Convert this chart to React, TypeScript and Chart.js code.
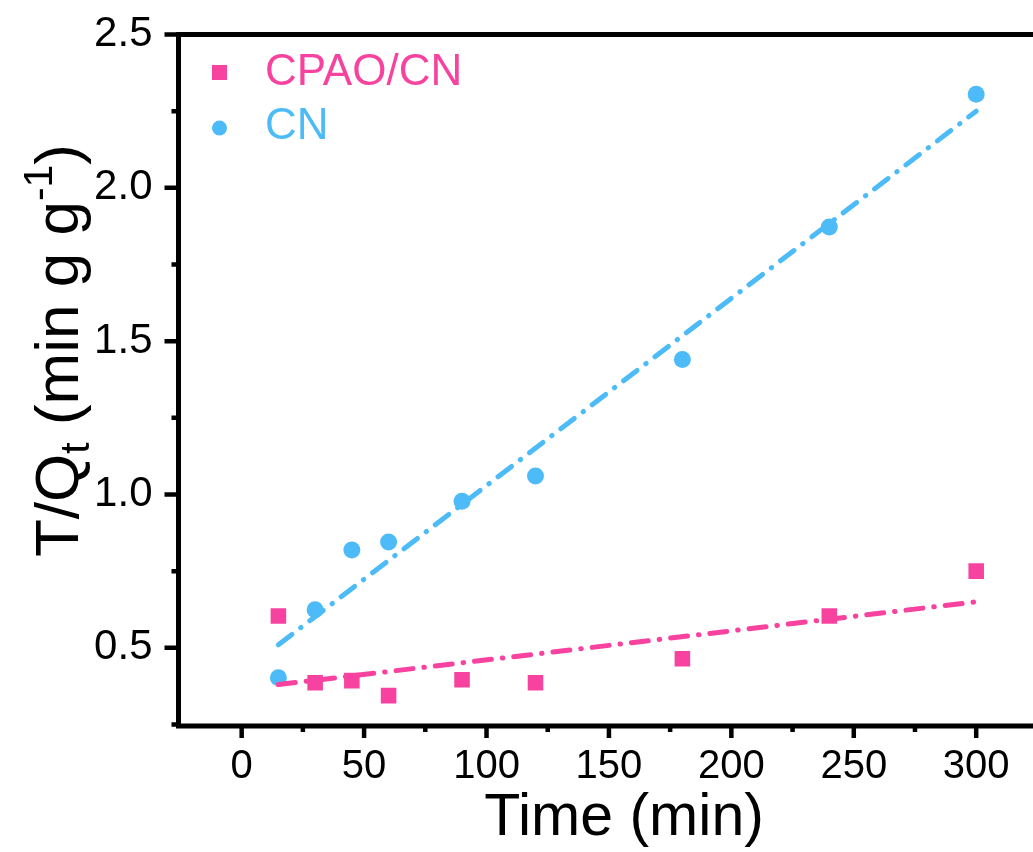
import React, { useEffect, useRef } from 'react';
import { Chart, registerables } from 'chart.js';

Chart.register(...registerables);

// ---- data ----
const timeMin = [15, 30, 45, 60, 90, 120, 180, 240, 300];
const cpaoCnValues = [0.604, 0.386, 0.393, 0.344, 0.396, 0.386, 0.464, 0.604, 0.75];
const cnValues = [0.402, 0.624, 0.819, 0.845, 0.978, 1.06, 1.44, 1.872, 2.305];
const fitTime = [15, 300];
const cpaoCnFit = [0.38, 0.65];
const cnFit = [0.51, 2.25];
const xTickValues = [0, 50, 100, 150, 200, 250, 300];
const xMinorTickValues = [25, 75, 125, 175, 225, 275];
const yTickValues = [0.5, 1.0, 1.5, 2.0, 2.5];
const yMinorTickValues = [0.25, 0.75, 1.25, 1.75, 2.25];
const seriesNames = ['CPAO/CN', 'CN'];
const xTitle = 'Time (min)';

const PINK = '#F7439F';
const BLUE = '#4CBBF7';
const FONT = '"Liberation Sans", Arial, Helvetica, sans-serif';

const toPoints = (xs: number[], ys: number[]) => xs.map((x, i) => ({ x, y: ys[i] }));

const decorPlugin = {
  id: 'decor',
  afterDatasetsDraw(chart: any) {
    const ctx = chart.ctx as CanvasRenderingContext2D;
    const { left, right, top, bottom } = chart.chartArea;
    const xs = chart.scales.x;
    const ys = chart.scales.y;
    ctx.save();
    ctx.strokeStyle = '#000';
    ctx.lineCap = 'butt';
    // axis lines and top frame
    ctx.lineWidth = 5;
    ctx.beginPath();
    ctx.moveTo(left, top);
    ctx.lineTo(right + 3, top);
    ctx.moveTo(left, top - 2.5);
    ctx.lineTo(left, bottom + 2.5);
    ctx.moveTo(left - 2.5, bottom);
    ctx.lineTo(right + 3, bottom);
    ctx.stroke();
    // ticks
    ctx.lineWidth = 4.5;
    ctx.beginPath();
    xTickValues.forEach((v) => {
      const px = xs.getPixelForValue(v);
      ctx.moveTo(px, bottom);
      ctx.lineTo(px, bottom + 12);
    });
    xMinorTickValues.forEach((v) => {
      const px = xs.getPixelForValue(v);
      ctx.moveTo(px, bottom);
      ctx.lineTo(px, bottom + 6);
    });
    yTickValues.forEach((v) => {
      const py = ys.getPixelForValue(v);
      ctx.moveTo(left, py);
      ctx.lineTo(left - 14, py);
    });
    yMinorTickValues.forEach((v) => {
      const py = ys.getPixelForValue(v);
      ctx.moveTo(left, py);
      ctx.lineTo(left - 7, py);
    });
    ctx.stroke();

    // legend
    ctx.fillStyle = PINK;
    ctx.fillRect(212, 65, 15, 15);
    ctx.fillStyle = BLUE;
    ctx.beginPath();
    ctx.arc(219.5, 128, 7.5, 0, Math.PI * 2);
    ctx.fill();
    ctx.font = `44px ${FONT}`;
    ctx.textAlign = 'left';
    ctx.textBaseline = 'alphabetic';
    ctx.fillStyle = PINK;
    ctx.fillText(seriesNames[0], 265, 85);
    ctx.fillStyle = BLUE;
    ctx.fillText(seriesNames[1], 265, 139);

    // x title
    ctx.fillStyle = '#000';
    ctx.font = `59px ${FONT}`;
    ctx.textAlign = 'center';
    ctx.fillText(xTitle, 624, 835);

    // y title (rotated) with subscript and superscript
    ctx.translate(78, 557);
    ctx.rotate(-Math.PI / 2);
    ctx.textAlign = 'left';
    const big = `62px ${FONT}`;
    const small = `41px ${FONT}`;
    const parts: [string, string, number][] = [
      ['T/Q', big, 0],
      ['t', small, 11],
      [' (min g g', big, 0],
      ['-1', small, -26],
      [')', big, 0],
    ];
    let cx = 0;
    parts.forEach(([t, f, dy]) => {
      ctx.font = f;
      ctx.fillText(t, cx, dy);
      cx += ctx.measureText(t).width;
    });
    ctx.restore();
  },
};

export default function App() {
  const canvasRef = useRef<HTMLCanvasElement | null>(null);

  useEffect(() => {
    if (!canvasRef.current) return;
    const fitLine = (color: string) => ({
      type: 'line' as const,
      borderColor: color,
      borderWidth: 5,
      borderDash: [17, 11, 0.5, 11],
      borderCapStyle: 'round' as const,
      pointRadius: 0,
      fill: false,
      tension: 0,
    });
    const chart = new Chart(canvasRef.current, {
      type: 'scatter',
      data: {
        datasets: [
          {
            ...fitLine(PINK),
            label: seriesNames[0] + ' fit',
            data: toPoints(fitTime, cpaoCnFit),
          } as any,
          {
            ...fitLine(BLUE),
            label: seriesNames[1] + ' fit',
            data: toPoints(fitTime, cnFit),
          } as any,
          {
            label: seriesNames[0],
            data: toPoints(timeMin, cpaoCnValues),
            pointStyle: 'rect',
            pointRadius: 11,
            backgroundColor: PINK,
            borderColor: PINK,
            borderWidth: 0,
          },
          {
            label: seriesNames[1],
            data: toPoints(timeMin, cnValues),
            pointStyle: 'circle',
            pointRadius: 8.5,
            backgroundColor: BLUE,
            borderColor: BLUE,
            borderWidth: 0,
          },
        ],
      },
      options: {
        animation: false,
        responsive: false,
        events: [],
        layout: { autoPadding: false, padding: { top: 34.5, right: 0, left: 0, bottom: 0 } },
        plugins: {
          legend: { display: false },
          tooltip: { enabled: false },
          title: { display: false },
        },
        scales: {
          x: {
            type: 'linear',
            min: -25.8,
            max: 323.2,
            afterBuildTicks: (scale: any) => {
              scale.ticks = xTickValues.map((v) => ({ value: v }));
            },
            afterFit: (scale: any) => {
              scale.height = 126;
            },
            grid: {
              display: true,
              drawOnChartArea: false,
              drawTicks: true,
              tickLength: 10,
              color: 'rgba(0,0,0,0)',
              tickColor: 'rgba(0,0,0,0)',
            },
            border: { display: false },
            ticks: {
              color: '#000',
              font: { family: FONT, size: 40 },
              padding: 7,
              maxRotation: 0,
              autoSkip: false,
              callback: (v: any) => String(v),
            },
          },
          y: {
            type: 'linear',
            min: 0.245,
            max: 2.5,
            afterBuildTicks: (scale: any) => {
              scale.ticks = yTickValues.map((v) => ({ value: v }));
            },
            afterFit: (scale: any) => {
              scale.width = 178.5;
            },
            grid: {
              display: true,
              drawOnChartArea: false,
              drawTicks: true,
              tickLength: 19,
              color: 'rgba(0,0,0,0)',
              tickColor: 'rgba(0,0,0,0)',
            },
            border: { display: false },
            ticks: {
              color: '#000',
              font: { family: FONT, size: 42 },
              padding: 7,
              autoSkip: false,
              callback: (v: any) => Number(v).toFixed(1),
            },
          },
        },
      },
      plugins: [decorPlugin],
    });
    return () => chart.destroy();
  }, []);

  return (
    <div style={{ position: 'fixed', left: 0, top: 0, width: 1033, height: 852, background: '#fff' }}>
      <canvas ref={canvasRef} width={1033} height={852} style={{ display: 'block' }} />
    </div>
  );
}
